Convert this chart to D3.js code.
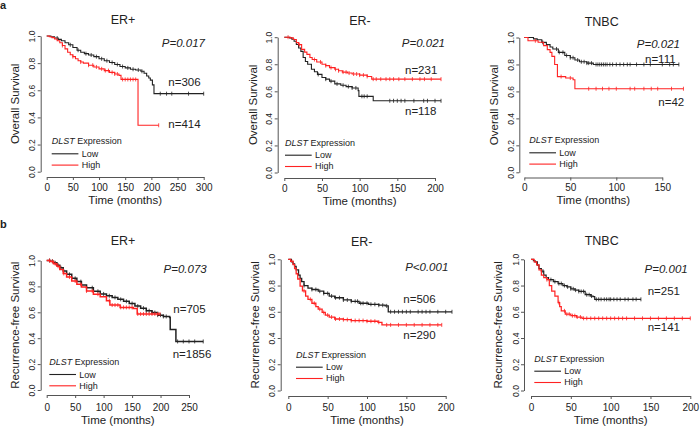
<!DOCTYPE html>
<html>
<head>
<meta charset="utf-8">
<script src="https://cdn.jsdelivr.net/npm/d3@7"></script>
<style>
  body { margin: 0; background: #fff; }
  svg { font-family: "Liberation Sans", Arial, sans-serif; }
</style>
</head>
<body>
<svg id="chart" width="700" height="429"></svg>
<script>
// ---- data: [months, survival] step points ----
var osErPosLow = [[0,1],[8,0.995],[15,0.985],[22,0.975],[28,0.965],[35,0.95],[42,0.935],[50,0.915],[58,0.895],[65,0.88],[72,0.87],[80,0.86],[90,0.848],[100,0.832],[110,0.818],[120,0.805],[130,0.79],[140,0.775],[150,0.765],[160,0.755],[170,0.75],[180,0.74],[186,0.725],[191,0.705],[195,0.69],[198,0.675],[202,0.64],[205,0.575],[300,0.575]];
var osErPosHigh = [[0,1],[5,0.995],[10,0.988],[15,0.978],[20,0.965],[25,0.95],[30,0.93],[35,0.905],[40,0.88],[45,0.862],[50,0.848],[55,0.832],[60,0.818],[65,0.808],[70,0.8],[80,0.785],[90,0.772],[100,0.758],[110,0.745],[120,0.732],[130,0.72],[138,0.71],[142,0.68],[174,0.68],[174.5,0.342],[214,0.342]];
var osErNegLow = [[0,1],[7,0.995],[10,0.985],[13,0.97],[16,0.946],[19,0.92],[22,0.895],[25,0.85],[28,0.82],[31,0.8],[36,0.763],[40,0.745],[44,0.725],[50,0.702],[55,0.69],[60,0.675],[67,0.655],[75,0.645],[82,0.635],[90,0.625],[98,0.605],[99,0.563],[118,0.53],[208,0.53]];
var osErNegHigh = [[0,1],[8,0.995],[12,0.983],[16,0.96],[19,0.945],[23,0.91],[27,0.89],[30,0.873],[34,0.85],[37,0.835],[43,0.817],[50,0.8],[55,0.79],[60,0.775],[67,0.763],[72,0.752],[77,0.742],[84,0.735],[90,0.728],[100,0.72],[110,0.71],[116,0.69],[208,0.69]];
var osTnbcLow = [[0,1],[8,1],[10,0.99],[14,0.983],[19,0.964],[24,0.947],[28,0.93],[31,0.915],[37,0.89],[44,0.867],[50,0.85],[55,0.833],[60,0.82],[68,0.81],[75,0.8],[168,0.8]];
var osTnbcHigh = [[0,1],[4,0.976],[15,0.965],[21,0.94],[25,0.91],[28,0.89],[30,0.86],[33,0.8],[36,0.71],[45,0.7],[53,0.687],[55,0.62],[173,0.62]];
var rfsErPosLow = [[0,1],[6,0.995],[12,0.982],[18,0.964],[23,0.944],[29,0.918],[35,0.893],[44,0.862],[53,0.837],[61,0.811],[70,0.79],[82,0.762],[94,0.742],[105,0.728],[115,0.715],[125,0.7],[135,0.685],[145,0.668],[155,0.648],[165,0.632],[175,0.612],[185,0.598],[195,0.578],[205,0.568],[216,0.56],[217,0.467],[227,0.375],[275,0.375]];
var rfsErPosHigh = [[0,1],[6,0.993],[12,0.975],[18,0.955],[23,0.93],[29,0.9],[35,0.872],[44,0.842],[53,0.816],[61,0.795],[70,0.765],[82,0.74],[94,0.72],[105,0.69],[111,0.656],[129,0.638],[152,0.63],[159,0.587],[199,0.587]];
var rfsErNegLow = [[0,1],[4,0.98],[6,0.965],[8,0.945],[10,0.92],[13,0.88],[15,0.855],[17,0.83],[20,0.8],[25,0.78],[30,0.77],[38,0.757],[45,0.74],[52,0.72],[59,0.707],[70,0.69],[80,0.68],[90,0.665],[102,0.657],[115,0.65],[123,0.645],[127,0.6],[208,0.6]];
var rfsErNegHigh = [[0,1],[3,0.985],[6,0.96],[8,0.93],[10,0.89],[12,0.85],[15,0.795],[18,0.76],[22,0.72],[25,0.695],[30,0.665],[35,0.64],[38,0.62],[43,0.595],[47,0.575],[52,0.56],[59,0.545],[70,0.54],[80,0.533],[100,0.528],[114,0.52],[119,0.5],[195,0.5]];
var rfsTnbcLow = [[0,1],[3,0.99],[5,0.98],[8,0.955],[10,0.93],[13,0.91],[16,0.88],[19,0.86],[22,0.845],[28,0.83],[34,0.815],[40,0.8],[45,0.79],[50,0.775],[55,0.765],[60,0.755],[68,0.73],[75,0.72],[78,0.715],[80,0.695],[138,0.695]];
var rfsTnbcHigh = [[0,1],[4,0.98],[7,0.957],[10,0.92],[13,0.88],[16,0.86],[20,0.845],[23,0.8],[26,0.757],[30,0.72],[34,0.67],[36,0.64],[38,0.607],[43,0.582],[50,0.57],[57,0.56],[64,0.55],[200,0.55]];

// censoring times (months)
var osErPosLowCens = [20,45,60,75,85,95,105,115,125,135,145,155,165,175,182,217,229,239,271,300];
var osErPosHighCens = [30,50,65,80,88,95,105,112,118,125,130,135,145,150,155,160,165,170,214];
var osErNegLowCens = [45,55,62,70,78,85,90,95,103,106,110,140,145,150,155,160,172,185,190,200,208];
var osErNegHighCens = [5,20,40,48,55,62,68,72,78,82,86,92,96,100,105,110,118,122,128,135,140,145,152,160,170,180,186,195,208];
var osTnbcLowCens = [20,35,38,42,46,50,53,58,62,65,68,70,73,78,80,82,84,86,88,90,93,96,100,104,108,112,115,122,130,137,150,158,162,168];
var osTnbcHighCens = [12,40,50,70,78,85,92,100,115,120,130,138,145,160,173];
var rfsErPosLowCens = [5,10,15,20,25,30,40,50,60,70,80,90,100,110,120,130,140,150,160,170,175,180,185,190,195,200,205,210,230,240,250,260,275];
var rfsErPosHighCens = [5,10,15,20,30,40,50,60,70,80,90,110,115,120,125,130,135,140,145,150,160,165,170,175,180,185,190,195,199];
var rfsErNegLowCens = [20,30,35,40,45,50,55,60,65,70,75,80,85,88,92,95,100,105,110,115,120,125,130,135,140,145,150,155,165,170,175,180,190,200,208];
var rfsErNegHighCens = [20,28,33,40,45,50,55,60,65,70,75,80,85,90,95,100,105,110,115,125,130,140,150,160,170,180,190,195];
var rfsTnbcLowCens = [15,25,30,35,38,42,46,50,53,56,60,63,66,70,73,76,82,85,88,92,95,98,100,104,108,112,118,122,128,132,138];
var rfsTnbcHighCens = [20,35,42,45,48,52,55,58,62,66,70,75,80,85,90,95,100,105,110,115,120,130,140,150,160,170,180,190,200];

var titles = ["ER+", "ER-", "TNBC", "ER+", "ER-", "TNBC"];
var yTitles = ["Overall Survival", "Overall Survival", "Overall Survival",
               "Recurrence-free Survival", "Recurrence-free Survival", "Recurrence-free Survival"];
var pValues = ["P=0.017", "P=0.021", "P=0.021", "P=0.073", "P<0.001", "P=0.001"];
var nLabels = [["n=306", "n=414"], ["n=231", "n=118"], ["n=111", "n=42"],
               ["n=705", "n=1856"], ["n=506", "n=290"], ["n=251", "n=141"]];
var xTickMax = [300, 200, 150, 250, 200, 200];
var yTicks = [0, 0.2, 0.4, 0.6, 0.8, 1.0];
var groups = ["Low", "High"];

var lowCurves = [osErPosLow, osErNegLow, osTnbcLow, rfsErPosLow, rfsErNegLow, rfsTnbcLow];
var highCurves = [osErPosHigh, osErNegHigh, osTnbcHigh, rfsErPosHigh, rfsErNegHigh, rfsTnbcHigh];
var lowCens = [osErPosLowCens, osErNegLowCens, osTnbcLowCens, rfsErPosLowCens, rfsErNegLowCens, rfsTnbcLowCens];
var highCens = [osErPosHighCens, osErNegHighCens, osTnbcHighCens, rfsErPosHighCens, rfsErNegHighCens, rfsTnbcHighCens];

// ---- layout (pixel positions of each panel) ----
// ax: y axis line x, axY: x axis line y, xt: tick label baseline, xly: "Time" baseline
var layout = [
  {ax: 40.7, x0: 46.7, x1: 203.7, y1: 36, y0: 171.7, axY: 177, xt: 190.5, tx: 123, ty: 24, ylx: 15, xly: 204,
   p: [205, 46.7], nTop: [168.3, 86], nBot: [168.3, 127.7], leg: [51.7, 144.3], lw: 1.1},
  {ax: 277.7, x0: 284.3, x1: 435, y1: 37.2, y0: 172.5, axY: 178, xt: 191.5, tx: 360, ty: 25, ylx: 253.3, xly: 205,
   p: [445, 47.3], nTop: [405, 74], nBot: [405, 115], leg: [285, 145.7], lw: 1.1},
  {ax: 519.3, x0: 524.3, x1: 662.3, y1: 37.5, y0: 172.3, axY: 177.5, xt: 191, tx: 601.7, ty: 26, ylx: 494.3, xly: 204,
   p: [680, 47.7], nTop: [645, 63.3], nBot: [658.3, 106], leg: [529.3, 143.3], lw: 1.1},
  {ax: 40.7, x0: 46.7, x1: 189, y1: 260.5, y0: 390, axY: 395, xt: 410.5, tx: 123, ty: 245, ylx: 15, xly: 423.5,
   p: [206.7, 272.7], nTop: [173.3, 313.3], nBot: [172.7, 357.7], leg: [49.3, 365], lw: 1.5},
  {ax: 280.7, x0: 288.3, x1: 445.7, y1: 259.3, y0: 390.5, axY: 396, xt: 411, tx: 361.7, ty: 246, ylx: 255, xly: 424,
   p: [448.3, 271], nTop: [403.3, 303.3], nBot: [403.3, 339.3], leg: [296, 357.7], lw: 1.3},
  {ax: 524, x0: 531, x1: 690.3, y1: 259.3, y0: 390.5, axY: 396, xt: 411, tx: 601.7, ty: 245, ylx: 498.3, xly: 424,
   p: [687.7, 272.7], nTop: [647.7, 295], nBot: [647.7, 330.7], leg: [534.3, 361.7], lw: 1.2}
];

var LOW_COLOR = "#222";
var HIGH_COLOR = "#f22";
var AXIS_COLOR = "#555";
var TEXT_COLOR = "#222";

var svg = d3.select("#chart");

svg.append("text").attr("x", 0).attr("y", 9).attr("font-size", 11).attr("font-weight", "bold")
  .attr("fill", TEXT_COLOR).text("a");
svg.append("text").attr("x", 0).attr("y", 228).attr("font-size", 11).attr("font-weight", "bold")
  .attr("fill", TEXT_COLOR).text("b");

function survAt(curve, t) {
  var s = curve[0][1];
  for (var i = 0; i < curve.length; i++) {
    if (curve[i][0] <= t) s = curve[i][1];
  }
  return s;
}

for (var k = 0; k < 6; k++) {
  var L = layout[k];
  var x = d3.scaleLinear().domain([0, xTickMax[k]]).range([L.x0, L.x1]);
  var y = d3.scaleLinear().domain([0, 1]).range([L.y0, L.y1]);
  var g = svg.append("g");

  // y axis
  var ya = g.append("g").attr("transform", "translate(" + L.ax + ",0)")
    .call(d3.axisLeft(y).tickValues(yTicks).tickSize(3).tickSizeOuter(0).tickFormat(d3.format(".1f")));
  ya.selectAll("text").attr("transform", "rotate(-90)").attr("x", 0).attr("y", -5.5).attr("dy", null)
    .attr("text-anchor", "middle").attr("font-size", 8.5).attr("fill", TEXT_COLOR);

  // x axis
  var xa = g.append("g").attr("transform", "translate(0," + L.axY + ")")
    .call(d3.axisBottom(x).tickValues(d3.range(0, xTickMax[k] + 1, 50)).tickSize(3).tickSizeOuter(0));
  xa.selectAll("text").attr("y", L.xt - L.axY).attr("dy", null).attr("font-size", 10).attr("fill", TEXT_COLOR);

  [ya, xa].forEach(function(a) {
    a.attr("font-family", null);
    a.selectAll("path, line").attr("stroke", AXIS_COLOR);
  });

  // titles
  g.append("text").attr("x", L.tx).attr("y", L.ty).attr("text-anchor", "middle")
    .attr("font-size", 12.5).attr("fill", TEXT_COLOR).text(titles[k]);
  g.append("text").attr("x", (L.x0 + L.x1) / 2).attr("y", L.xly).attr("text-anchor", "middle")
    .attr("font-size", 11.5).attr("fill", TEXT_COLOR).text("Time (months)");
  g.append("text").attr("transform", "translate(" + L.ylx + "," + ((L.y0 + L.y1) / 2) + ") rotate(-90)")
    .attr("dy", "0.35em").attr("text-anchor", "middle").attr("font-size", 11.5).attr("fill", TEXT_COLOR)
    .text(yTitles[k]);

  // curves
  var line = d3.line().x(function(d) { return x(d[0]); }).y(function(d) { return y(d[1]); })
    .curve(d3.curveStepAfter);
  var sets = [[lowCurves[k], lowCens[k], LOW_COLOR], [highCurves[k], highCens[k], HIGH_COLOR]];
  sets.forEach(function(s) {
    g.append("path").datum(s[0]).attr("d", line).attr("fill", "none")
      .attr("stroke", s[2]).attr("stroke-width", L.lw);
    g.selectAll(null).data(s[1]).enter().append("line")
      .attr("x1", function(t) { return x(t); }).attr("x2", function(t) { return x(t); })
      .attr("y1", function(t) { return y(survAt(s[0], t)) - 2; })
      .attr("y2", function(t) { return y(survAt(s[0], t)) + 2; })
      .attr("stroke", s[2]).attr("stroke-width", 0.8);
  });

  // annotations
  g.append("text").attr("x", L.p[0]).attr("y", L.p[1]).attr("text-anchor", "end")
    .attr("font-size", 11.5).attr("font-style", "italic").attr("fill", TEXT_COLOR).text(pValues[k]);
  g.append("text").attr("x", L.nTop[0]).attr("y", L.nTop[1])
    .attr("font-size", 11.5).attr("fill", TEXT_COLOR).text(nLabels[k][0]);
  g.append("text").attr("x", L.nBot[0]).attr("y", L.nBot[1])
    .attr("font-size", 11.5).attr("fill", TEXT_COLOR).text(nLabels[k][1]);

  // legend
  var lg = g.append("g").attr("transform", "translate(" + L.leg[0] + "," + L.leg[1] + ")");
  var head = lg.append("text").attr("font-size", 9).attr("fill", TEXT_COLOR);
  head.append("tspan").attr("font-style", "italic").text("DLST");
  head.append("tspan").text(" Expression");
  groups.forEach(function(name, i) {
    var yy = 9.5 + i * 11.3;
    lg.append("line").attr("x1", 0).attr("x2", 26.7).attr("y1", yy).attr("y2", yy)
      .attr("stroke", i === 0 ? LOW_COLOR : HIGH_COLOR).attr("stroke-width", 1.1);
    lg.append("text").attr("x", 30).attr("y", yy + 3).attr("font-size", 9)
      .attr("fill", TEXT_COLOR).text(name);
  });
}
</script>
</body>
</html>
